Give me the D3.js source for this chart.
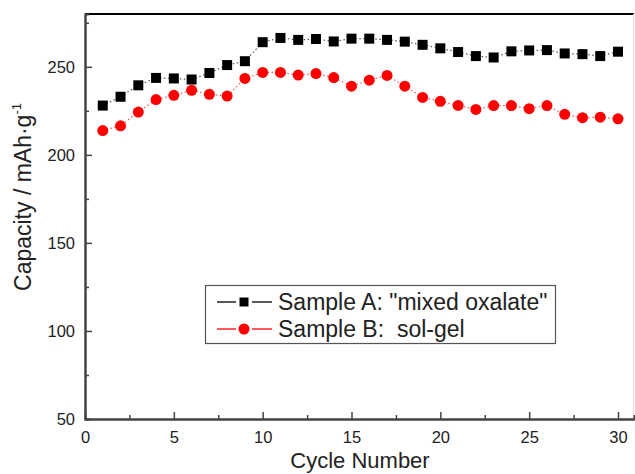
<!DOCTYPE html>
<html>
<head>
<meta charset="utf-8">
<script src="https://cdn.jsdelivr.net/npm/d3@7"></script>
<style>
  body { margin: 0; background: #fff; }
  svg { display: block; font-family: "Liberation Sans", Arial, sans-serif; }
</style>
</head>
<body>
<div id="canvas"></div>
<script>
const cycles = d3.range(1, 31);
const sampleA = [228, 233, 239.5, 243.7, 243.4, 242.8, 246.5, 251, 253.2, 264,
    266.4, 265.3, 265.8, 264.4, 266, 266, 265.3, 264.3, 262.5, 260.5,
    258.4, 256.1, 255.3, 258.8, 259.3, 259.5, 257.6, 257.2, 256.1, 258.6];
const sampleB = [213.8, 216.5, 224.3, 231.4, 233.8, 236.7, 234.4, 233.4, 243.4, 246.8,
    246.8, 245.3, 246.2, 243.9, 239, 242.4, 245.1, 239, 232.6, 230.4,
    228.1, 225.8, 228, 228, 226.2, 228, 223, 221.1, 221.4, 220.5];
const xTicks = [0, 5, 10, 15, 20, 25, 30];
const yTicks = [50, 100, 150, 200, 250];
const legendLabels = ['Sample A: "mixed oxalate"', 'Sample B:  sol-gel'];

const w = 635,
    h = 474,
    m = {left: 85, right: 1, top: 14, bottom: 55},
    svg = d3.select('#canvas').append('svg')
        .attr('width', w)
        .attr('height', h);

const x = d3.scaleLinear().domain([0, 30.9]).range([m.left, w - m.right]);
const y = d3.scaleLinear().domain([50, 280]).range([h - m.bottom, m.top]);

// frame: top black, right light grey
svg.append('line')
    .attr('x1', m.left).attr('x2', w - m.right)
    .attr('y1', m.top).attr('y2', m.top)
    .attr('stroke', '#000').attr('stroke-width', 2);
svg.append('line')
    .attr('x1', w - m.right - 0.5).attr('x2', w - m.right - 0.5)
    .attr('y1', m.top).attr('y2', h - m.bottom)
    .attr('stroke', '#ddd').attr('stroke-width', 1);

function axisStyle(g) {
    g.selectAll('path').attr('stroke', '#444').attr('stroke-width', 2);
    g.selectAll('line').attr('stroke', '#444').attr('stroke-width', 1.5);
    g.selectAll('text')
        .attr('font-size', '16.5px')
        .attr('fill', '#222')
        .attr('font-family', '"Liberation Sans", Arial, sans-serif');
}

// minor ticks
svg.append('g')
    .attr('transform', 'translate(0,' + (h - m.bottom) + ')')
    .call(d3.axisBottom(x).tickValues([2.5, 7.5, 12.5, 17.5, 22.5, 27.5]).tickSize(-4).tickFormat(''))
    .call(axisStyle);
svg.append('g')
    .attr('transform', 'translate(' + m.left + ',0)')
    .call(d3.axisLeft(y).tickValues([75, 125, 175, 225, 275]).tickSize(-4).tickFormat(''))
    .call(axisStyle);

const xAxis = svg.append('g')
    .attr('transform', 'translate(0,' + (h - m.bottom) + ')')
    .call(d3.axisBottom(x).tickValues(xTicks).tickSize(-7).tickSizeOuter(0).tickPadding(12))
    .call(axisStyle);

const yAxis = svg.append('g')
    .attr('transform', 'translate(' + m.left + ',0)')
    .call(d3.axisLeft(y).tickValues(yTicks).tickSize(-7).tickSizeOuter(0).tickPadding(10))
    .call(axisStyle);
yAxis.selectAll('text').attr('dy', '0.36em');

// axis titles
svg.append('text')
    .attr('x', 360)
    .attr('y', 468)
    .attr('text-anchor', 'middle')
    .attr('font-size', '22px')
    .attr('fill', '#222')
    .text('Cycle Number');

const yt = svg.append('text')
    .attr('transform', 'translate(31,' + 197 + ')rotate(-90)')
    .attr('text-anchor', 'middle')
    .attr('font-size', '23px')
    .attr('fill', '#222');
yt.append('tspan').text('Capacity / mAh\u00b7g');
yt.append('tspan').attr('font-size', '13px').attr('dy', '-10').text('-1');

// series
const series = [
    {values: sampleA, color: '#000', shape: 'square'},
    {values: sampleB, color: '#ff0000', shape: 'circle'}
];

const line = d3.line()
    .x((d, i) => x(cycles[i]))
    .y(d => y(d));

series.forEach(s => {
    svg.append('path')
        .datum(s.values)
        .attr('d', line)
        .attr('fill', 'none')
        .attr('stroke', s.color === '#000' ? '#555' : '#e55')
        .attr('stroke-width', 1.2)
        .attr('stroke-dasharray', '1.5,2.5');

    if (s.shape === 'square') {
        svg.selectAll(null)
            .data(s.values)
            .join('rect')
            .attr('x', (d, i) => x(cycles[i]) - 5)
            .attr('y', d => y(d) - 5)
            .attr('width', 10)
            .attr('height', 10)
            .attr('fill', s.color);
    } else {
        svg.selectAll(null)
            .data(s.values)
            .join('circle')
            .attr('cx', (d, i) => x(cycles[i]))
            .attr('cy', d => y(d))
            .attr('r', 5.5)
            .attr('fill', s.color);
    }
});

// legend
const lg = svg.append('g');
lg.append('rect')
    .attr('x', 205.5).attr('y', 285.5)
    .attr('width', 350).attr('height', 58)
    .attr('fill', '#fff')
    .attr('stroke', '#555')
    .attr('stroke-width', 1.2);

legendLabels.forEach((lab, i) => {
    const cy = 302 + i * 27,
        s = series[i];
    [[217, 236], [252, 272]].forEach(seg => {
        lg.append('line')
            .attr('x1', seg[0]).attr('x2', seg[1])
            .attr('y1', cy).attr('y2', cy)
            .attr('stroke', s.color)
            .attr('stroke-width', 1.3);
    });
    if (s.shape === 'square') {
        lg.append('rect')
            .attr('x', 239.5).attr('y', cy - 4.5)
            .attr('width', 9).attr('height', 9)
            .attr('fill', s.color);
    } else {
        lg.append('circle')
            .attr('cx', 244).attr('cy', cy)
            .attr('r', 5.5)
            .attr('fill', s.color);
    }
    lg.append('text')
        .attr('x', 278)
        .attr('y', cy + 8)
        .attr('font-size', '23px')
        .attr('fill', '#222')
        .style('white-space', 'pre')
        .text(lab);
});
</script>
</body>
</html>
